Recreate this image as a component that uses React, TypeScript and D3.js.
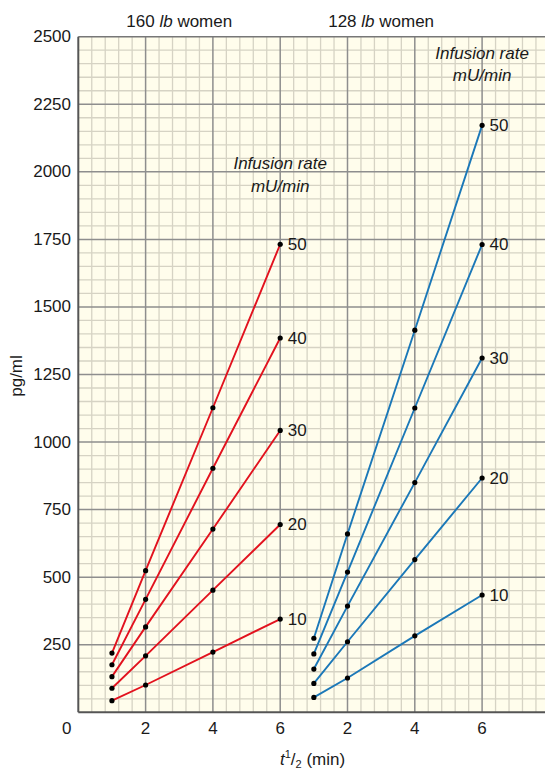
import React from "react";
import * as d3 from "d3";

const times = [1, 2, 4, 6];
const rates = ["50", "40", "30", "20", "10"];
const heavyValues = [
  [219, 524, 1127, 1732],
  [176, 418, 903, 1385],
  [132, 316, 678, 1043],
  [89, 209, 452, 695],
  [43, 101, 223, 345],
];
const lightValues = [
  [274, 660, 1414, 2172],
  [216, 519, 1126, 1731],
  [160, 393, 850, 1311],
  [107, 261, 565, 867],
  [55, 127, 283, 434],
];
const panelTitles = ["160", "128"];
const xTickValues = [2, 4, 6];
const yTickValues = d3.range(250, 2501, 250);

const W = 545;
const H = 771;
const FONT = "'Liberation Sans', Arial, sans-serif";

export default function App() {
  const x = d3.scaleLinear().domain([0, 12]).range([78.3, 482.1]);
  const y = d3.scaleLinear().domain([0, 2500]).range([712.3, 36.7]);
  const xMaxData = x.invert(W);
  const left = x(0);
  const right = W;
  const top = y(2500);
  const bottom = y(0);

  const minorX = d3.range(0, xMaxData, 0.4).filter((v) => Math.abs(v / 2 - Math.round(v / 2)) > 1e-6);
  const majorX = d3.range(2, xMaxData, 2);
  const minorY = d3.range(0, 2500, 50).filter((v) => v % 250 !== 0);
  const majorY = d3.range(250, 2500, 250);

  const panels = [
    { title: panelTitles[0], offset: 0, values: heavyValues, color: "#e2121e", label: { tx: 6, ty: [163, 186] } },
    { title: panelTitles[1], offset: 6, values: lightValues, color: "#1b78b8", label: { tx: 6, ty: [53.5, 75] } },
  ];

  const line = d3
    .line<[number, number]>()
    .x((d) => x(d[0]))
    .y((d) => y(d[1]));

  return (
    <svg width={W} height={H} style={{ position: "absolute", left: 0, top: 0, fontFamily: FONT }}>
      <rect x={0} y={0} width={W} height={H} fill="#ffffff" />
      <rect x={left} y={top} width={right - left} height={bottom - top} fill="#fffdec" />
      {minorX.map((v) => (
        <line key={"mx" + v} x1={x(v)} x2={x(v)} y1={top} y2={bottom} stroke="#d6d3c4" strokeWidth={1.3} />
      ))}
      {minorY.map((v) => (
        <line key={"my" + v} x1={left} x2={right} y1={y(v)} y2={y(v)} stroke="#d6d3c4" strokeWidth={1.3} />
      ))}
      {majorX.map((v) => (
        <line key={"Mx" + v} x1={x(v)} x2={x(v)} y1={top} y2={bottom} stroke="#8e8e8e" strokeWidth={1.5} />
      ))}
      {majorY.map((v) => (
        <line key={"My" + v} x1={left} x2={right} y1={y(v)} y2={y(v)} stroke="#8e8e8e" strokeWidth={1.5} />
      ))}
      <line x1={left} x2={right} y1={top} y2={top} stroke="#777" strokeWidth={1.6} />
      <line x1={left} x2={left} y1={top} y2={bottom} stroke="#555" strokeWidth={2} />
      <line x1={left} x2={right} y1={bottom} y2={bottom} stroke="#555" strokeWidth={2} />

      {panels.map((p, pi) => (
        <g key={"p" + pi}>
          {p.values.map((vals, si) => {
            const pts: [number, number][] = times.map((t, i) => [t + p.offset, vals[i]]);
            return (
              <g key={"s" + si}>
                <path d={line(pts) || ""} fill="none" stroke={p.color} strokeWidth={1.9} />
                {pts.map((d, i) => (
                  <circle key={i} cx={x(d[0])} cy={y(d[1])} r={2.6} fill="#000" />
                ))}
                <text
                  x={x(pts[pts.length - 1][0]) + 7.5}
                  y={y(pts[pts.length - 1][1])}
                  dominantBaseline="central"
                  fontSize={17}
                  fill="#1a1a1a"
                >
                  {rates[si]}
                </text>
              </g>
            );
          })}
          <text x={x(3 + p.offset)} y={26.5} textAnchor="middle" fontSize={17} fill="#1a1a1a">
            {p.title} <tspan fontStyle="italic">lb</tspan> women
          </text>
          <text x={x(p.label.tx + p.offset)} y={p.label.ty[0]} textAnchor="middle" dominantBaseline="central" fontSize={17} fontStyle="italic" fill="#1a1a1a">
            Infusion rate
          </text>
          <text x={x(p.label.tx + p.offset)} y={p.label.ty[1]} textAnchor="middle" dominantBaseline="central" fontSize={17} fontStyle="italic" fill="#1a1a1a">
            mU/min
          </text>
          {xTickValues.map((v) => (
            <text key={"xt" + v} x={x(v + p.offset)} y={728} textAnchor="middle" dominantBaseline="central" fontSize={17} fill="#1a1a1a">
              {String(v)}
            </text>
          ))}
        </g>
      ))}

      <text x={66.7} y={728} textAnchor="middle" dominantBaseline="central" fontSize={17} fill="#1a1a1a">
        0
      </text>
      {yTickValues.map((v) => (
        <text key={"yt" + v} x={71} y={y(v)} textAnchor="end" dominantBaseline="central" fontSize={17} fill="#1a1a1a">
          {String(v)}
        </text>
      ))}
      <text transform="translate(22,376) rotate(-90)" textAnchor="middle" fontSize={17} fill="#1a1a1a">
        pg/ml
      </text>
      <text x={280} y={765} fontSize={17} fill="#1a1a1a">
        <tspan fontStyle="italic">t</tspan>
        <tspan fontSize={11} dy={-7}>1</tspan>
        <tspan dy={7}>/</tspan>
        <tspan fontSize={11} dy={3}>2</tspan>
        <tspan dy={-3}> (min)</tspan>
      </text>
    </svg>
  );
}
